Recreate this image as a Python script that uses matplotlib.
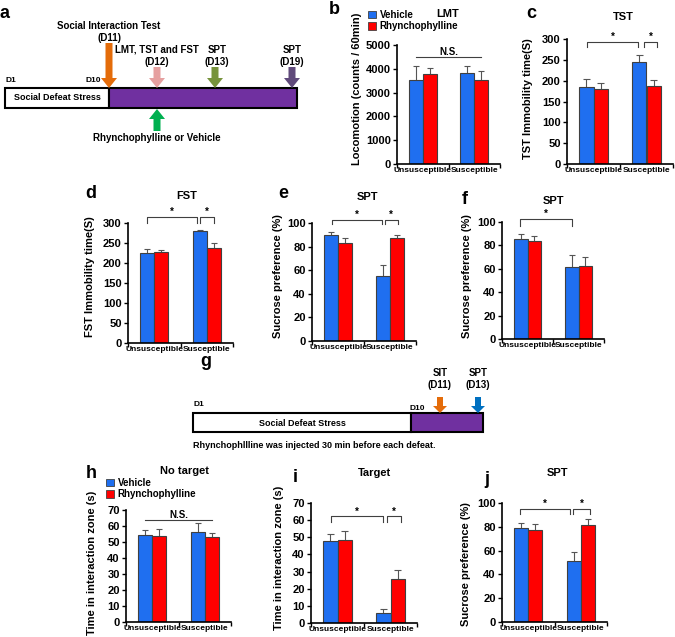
import matplotlib
matplotlib.use('Agg')
import matplotlib.pyplot as plt
from matplotlib.patches import Rectangle, FancyArrow, Patch

plt.rcParams['font.family'] = ['Liberation Sans', 'DejaVu Sans']
plt.rcParams['font.weight'] = 'bold'
plt.rcParams['axes.labelweight'] = 'bold'

# ---- data ----
groups = ['Unsusceptible', 'Susceptible']
series = ['Vehicle', 'Rhynchophylline']

lmt_veh = [3530, 3840]
lmt_veh_err = [590, 280]
lmt_rhy = [3780, 3530]
lmt_rhy_err = [240, 380]

tst_veh = [184, 246]
tst_veh_err = [20, 16]
tst_rhy = [180, 188]
tst_rhy_err = [15, 14]

fst_veh = [224, 279]
fst_veh_err = [11, 4]
fst_rhy = [228, 238]
fst_rhy_err = [5, 11]

spt13_veh = [89.8, 54.8]
spt13_veh_err = [2.9, 9.9]
spt13_rhy = [83.3, 87.3]
spt13_rhy_err = [4.3, 2.8]

spt19_veh = [85.3, 61.5]
spt19_veh_err = [4.5, 9.9]
spt19_rhy = [84.1, 62.6]
spt19_rhy_err = [4.0, 7.1]

notarget_veh = [54.3, 56.4]
notarget_veh_err = [3.0, 5.2]
notarget_rhy = [53.7, 52.9]
notarget_rhy_err = [4.2, 2.9]

target_veh = [47.8, 5.8]
target_veh_err = [3.9, 2.4]
target_rhy = [48.4, 25.7]
target_rhy_err = [5.3, 5.0]

sptj_veh = [78.6, 51.3]
sptj_veh_err = [4.2, 7.9]
sptj_rhy = [77.7, 81.4]
sptj_rhy_err = [4.6, 4.8]

BLUE = '#1f6ff0'
RED = '#ff0000'
EDGE = '#404040'

W, H = 675, 637
fig = plt.figure(figsize=(W / 100, H / 100), dpi=100)

# overlay in pixel coordinates for timelines and free text
ov = fig.add_axes([0, 0, 1, 1], zorder=10)
ov.set_xlim(0, W)
ov.set_ylim(H, 0)
ov.axis('off')
ov.patch.set_alpha(0)


def px_axes(l, t, r, b):
    return fig.add_axes([l / W, 1 - b / H, (r - l) / W, (b - t) / H])


def bar_panel(box, veh, veh_err, rhy, rhy_err, ymax, ystep):
    ax = px_axes(*box)
    x = [0, 1]
    bw = 0.27
    xv = [i - bw / 2 for i in x]
    xr = [i + bw / 2 for i in x]
    for xs, vals, errs, col in [(xv, veh, veh_err, BLUE), (xr, rhy, rhy_err, RED)]:
        ax.bar(xs, vals, width=bw, color=col, edgecolor=EDGE, linewidth=0.8, zorder=2)
        ax.vlines(xs, vals, [v + e for v, e in zip(vals, errs)], color='#555555', lw=0.8, zorder=1)
        ax.hlines([v + e for v, e in zip(vals, errs)], [s - 0.06 for s in xs], [s + 0.06 for s in xs],
                  color='#555555', lw=0.8, zorder=1)
    ax.set_xlim(-0.5, 1.5)
    ax.set_ylim(0, ymax)
    ax.set_yticks(range(0, ymax + 1, ystep))
    ax.set_xticks([-0.5, 0.5, 1.5])
    ax.set_xticklabels([])
    ax.set_xticks(x, groups, minor=True)
    ax.tick_params(axis='x', which='minor', length=0, labelsize=6, pad=2)
    ax.tick_params(axis='x', which='major', length=3, width=1, direction='out')
    ax.tick_params(axis='y', length=3, width=1, direction='out', labelsize=8, pad=1.5)
    for s in ['top', 'right']:
        ax.spines[s].set_visible(False)
    for s in ['left', 'bottom']:
        ax.spines[s].set_linewidth(1.2)
    ax.patch.set_alpha(0)
    return ax


def bracket(ax, x1, x2, y, drop, label):
    ax.plot([x1, x1, x2, x2], [y - drop, y, y, y - drop], color='#404040', lw=0.8, clip_on=False)
    ax.text((x1 + x2) / 2, y, label, ha='center', va='bottom', fontsize=7, clip_on=False)


def ns_line(ax, y, label='N.S.'):
    ax.plot([-0.135, 1.135], [y, y], color='#404040', lw=0.8, clip_on=False)
    ax.text(0.5, y, label, ha='center', va='bottom', fontsize=7)


# ---- bar panels ----
ax_b = bar_panel((397, 45, 500, 164), lmt_veh, lmt_veh_err, lmt_rhy, lmt_rhy_err, 5000, 1000)
ns_line(ax_b, 4480)

ax_c = bar_panel((567, 39, 673, 164), tst_veh, tst_veh_err, tst_rhy, tst_rhy_err, 300, 50)
bracket(ax_c, -0.12, 0.84, 293, 12, '*')
bracket(ax_c, 0.95, 1.2, 293, 12, '*')

ax_d = bar_panel((128, 223, 233, 343), fst_veh, fst_veh_err, fst_rhy, fst_rhy_err, 300, 50)
bracket(ax_d, -0.135, 0.82, 315, 15, '*')
bracket(ax_d, 0.87, 1.135, 315, 15, '*')

ax_e = bar_panel((312, 223, 416, 341), spt13_veh, spt13_veh_err, spt13_rhy, spt13_rhy_err, 100, 20)
bracket(ax_e, -0.12, 0.85, 102.8, 4, '*')
bracket(ax_e, 0.9, 1.15, 102.8, 4, '*')

ax_f = bar_panel((502, 222, 604, 339), spt19_veh, spt19_veh_err, spt19_rhy, spt19_rhy_err, 100, 20)
bracket(ax_f, -0.15, 0.87, 102.8, 6, '*')

ax_h = bar_panel((126, 510, 231, 622), notarget_veh, notarget_veh_err, notarget_rhy, notarget_rhy_err, 70, 10)
ns_line(ax_h, 64)

ax_i = bar_panel((311, 503, 417, 623), target_veh, target_veh_err, target_rhy, target_rhy_err, 70, 10)
bracket(ax_i, -0.12, 0.86, 62.2, 3.3, '*')
bracket(ax_i, 0.93, 1.2, 62.2, 3.3, '*')

ax_j = bar_panel((502, 503, 607, 622), sptj_veh, sptj_veh_err, sptj_rhy, sptj_rhy_err, 100, 20)
bracket(ax_j, -0.15, 0.8, 94.9, 4.5, '*')
bracket(ax_j, 0.86, 1.17, 94.9, 4.5, '*')

# legends
handles = [Patch(facecolor=BLUE, edgecolor=EDGE, lw=0.6), Patch(facecolor=RED, edgecolor=EDGE, lw=0.6)]
for anchor in [(368, 10), (106, 478)]:
    fig.legend(handles, series, loc='upper left', bbox_to_anchor=(anchor[0] / W, 1 - anchor[1] / H),
               frameon=False, fontsize=7, handlelength=0.8, handleheight=0.8, handletextpad=0.4,
               labelspacing=0.15, borderpad=0, borderaxespad=0)

# titles
for txt, x, y in [('LMT', 448, 14), ('TST', 623, 17), ('FST', 187, 196), ('SPT', 367, 197),
                  ('SPT', 553, 201), ('No target', 184, 471), ('Target', 375, 473), ('SPT', 557, 473)]:
    ov.text(x, y, txt, ha='center', va='center', fontsize=8)

# y labels
for txt, x, y in [('Locomotion (counts / 60min)', 357, 89), ('TST Immobility time(S)', 528, 99),
                  ('FST Immobility time(S)', 90, 277), ('Sucrose preference (%)', 278, 276),
                  ('Sucrose preference (%)', 467, 276), ('Time in interaction zone (s)', 92, 563),
                  ('Time in interaction zone (s)', 279, 558), ('Sucrose preference (%)', 466, 564)]:
    ov.text(x, y, txt, ha='center', va='center', rotation=90, fontsize=8)

# panel letters
for txt, x, y in [('a', 0, 13), ('b', 329, 10), ('c', 526, 13), ('d', 85, 193), ('e', 278, 193),
                  ('f', 462, 200), ('g', 200, 362), ('h', 86, 474), ('i', 293, 477), ('j', 484, 479)]:
    ov.text(x, y, txt, ha='left', va='center', fontsize=13)

# ---- timeline a ----
ov.add_patch(Rectangle((5, 88), 104, 20, facecolor='white', edgecolor='black', lw=1.5))
ov.add_patch(Rectangle((109, 88), 188, 20, facecolor='#7030a0', edgecolor='black', lw=1.5))
ov.text(57, 98, 'Social Defeat Stress', ha='center', va='center', fontsize=6.5)
ov.text(6, 80, 'D1', ha='left', va='center', fontsize=6)
ov.text(85, 80, 'D10', ha='left', va='center', fontsize=6)
for x, y0, col in [(109, 43, '#e46c0a'), (157, 67, '#e6a0a0'), (215, 67, '#77933c'), (292, 67, '#604a7b')]:
    ov.add_patch(FancyArrow(x, y0, 0, 88 - y0, width=7, head_width=16, head_length=10,
                            length_includes_head=True, facecolor=col, edgecolor='none'))
ov.add_patch(FancyArrow(157, 131, 0, -22, width=7, head_width=16, head_length=10,
                        length_includes_head=True, facecolor='#00b050', edgecolor='none'))
ov.text(109, 26, 'Social Interaction Test', ha='center', va='center', fontsize=7)
ov.text(109, 38, '(D11)', ha='center', va='center', fontsize=7)
ov.text(157, 50, 'LMT, TST and FST', ha='center', va='center', fontsize=7)
ov.text(157, 62, '(D12)', ha='center', va='center', fontsize=7)
ov.text(217, 50, 'SPT', ha='center', va='center', fontsize=7)
ov.text(217, 62, '(D13)', ha='center', va='center', fontsize=7)
ov.text(292, 50, 'SPT', ha='center', va='center', fontsize=7)
ov.text(292, 62, '(D19)', ha='center', va='center', fontsize=7)
ov.text(157, 138, 'Rhynchophylline or Vehicle', ha='center', va='center', fontsize=7)

# ---- timeline g ----
ov.add_patch(Rectangle((193, 413), 218, 19, facecolor='white', edgecolor='black', lw=1.5))
ov.add_patch(Rectangle((411, 413), 72, 19, facecolor='#7030a0', edgecolor='black', lw=1.5))
ov.text(302, 423, 'Social Defeat Stress', ha='center', va='center', fontsize=6.5)
ov.text(194, 405, 'D1', ha='left', va='center', fontsize=6)
ov.text(409, 408, 'D10', ha='left', va='center', fontsize=6)
for x, col in [(440, '#e46c0a'), (478, '#0070c0')]:
    ov.add_patch(FancyArrow(x, 397, 0, 16, width=6, head_width=14, head_length=7,
                            length_includes_head=True, facecolor=col, edgecolor='none'))
ov.text(440, 373, 'SIT', ha='center', va='center', fontsize=7)
ov.text(440, 385, '(D11)', ha='center', va='center', fontsize=7)
ov.text(478, 373, 'SPT', ha='center', va='center', fontsize=7)
ov.text(478, 385, '(D13)', ha='center', va='center', fontsize=7)
ov.text(193, 446, 'Rhynchophllline was injected 30 min before each defeat.', ha='left', va='center',
        fontsize=6.5)

fig.savefig('out.png', dpi=100)
